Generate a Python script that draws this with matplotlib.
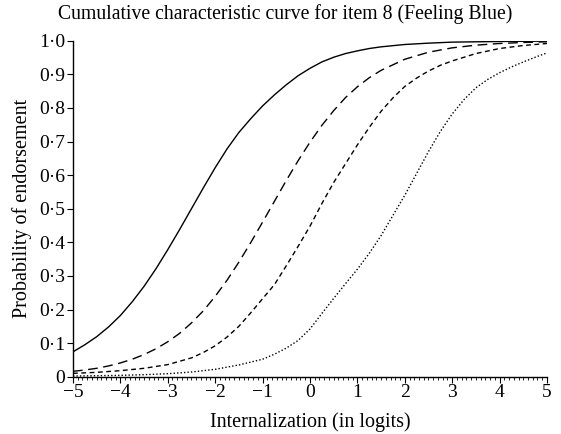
import numpy as np
import matplotlib
matplotlib.use("Agg")
import matplotlib.pyplot as plt
from matplotlib.ticker import MultipleLocator

plt.rcParams['font.family'] = ['Liberation Serif', 'DejaVu Serif']

# values (logits, probability of endorsement)
x_cat1 = [-5.0, -4.75, -4.5, -4.25, -4.0, -3.75, -3.5, -3.25, -3.0, -2.75, -2.5, -2.25,
          -2.0, -1.75, -1.5, -1.25, -1.0, -0.75, -0.5, -0.25, 0.0, 0.25, 0.5, 0.75,
          1.0, 1.25, 1.5, 2.0, 2.5, 3.0, 4.0, 5.0]
p_cat1 = [0.074, 0.095, 0.119, 0.148, 0.182, 0.223, 0.269, 0.321, 0.378, 0.438, 0.500, 0.562,
          0.622, 0.678, 0.727, 0.768, 0.806, 0.839, 0.869, 0.896, 0.918, 0.937, 0.951, 0.962,
          0.970, 0.977, 0.982, 0.989, 0.993, 0.996, 0.998, 0.999]

x_cat2 = [-5.0, -4.75, -4.5, -4.25, -4.0, -3.75, -3.5, -3.25, -3.0, -2.75, -2.5, -2.25,
          -2.0, -1.75, -1.5, -1.25, -1.0, -0.75, -0.5, -0.25, 0.0, 0.25, 0.5, 0.75,
          1.0, 1.25, 1.5, 2.0, 2.5, 3.0, 3.5, 4.0, 4.5, 5.0]
p_cat2 = [0.016, 0.020, 0.025, 0.032, 0.041, 0.052, 0.066, 0.083, 0.104, 0.129, 0.160, 0.196,
          0.239, 0.287, 0.341, 0.399, 0.460, 0.522, 0.584, 0.643, 0.698, 0.748, 0.792, 0.831,
          0.863, 0.890, 0.912, 0.945, 0.966, 0.979, 0.987, 0.992, 0.995, 0.997]

x_cat3 = [-5.0, -4.5, -4.0, -3.5, -3.0, -2.5, -2.25, -2.0, -1.75, -1.5, -1.25, -1.0,
          -0.75, -0.5, -0.25, 0.0, 0.25, 0.5, 0.75, 1.0, 1.25, 1.5, 1.75, 2.0,
          2.25, 2.5, 2.75, 3.0, 3.5, 4.0, 4.5, 5.0]
p_cat3 = [0.010, 0.013, 0.018, 0.025, 0.036, 0.056, 0.072, 0.092, 0.118, 0.150, 0.190, 0.232,
          0.274, 0.330, 0.388, 0.448, 0.515, 0.578, 0.634, 0.690, 0.742, 0.790, 0.830, 0.864,
          0.889, 0.910, 0.927, 0.940, 0.962, 0.977, 0.986, 0.992]

x_cat4 = [-5.0, -4.5, -4.0, -3.5, -3.0, -2.5, -2.0, -1.5, -1.0, -0.75, -0.5, -0.25, 0.0,
          0.25, 0.5, 0.75, 1.0, 1.25, 1.5, 1.75, 2.0, 2.25, 2.5, 2.75, 3.0,
          3.25, 3.5, 3.75, 4.0, 4.25, 4.5, 4.75, 5.0]
p_cat4 = [0.002, 0.003, 0.004, 0.006, 0.009, 0.014, 0.022, 0.035, 0.052, 0.067, 0.085, 0.108, 0.142,
          0.188, 0.233, 0.277, 0.320, 0.367, 0.420, 0.480, 0.540, 0.605, 0.670, 0.730, 0.782,
          0.825, 0.860, 0.885, 0.905, 0.922, 0.937, 0.951, 0.964]

fig = plt.figure(figsize=(5.61, 4.34), dpi=100)
ax = fig.add_axes([0.130, 0.132, 0.845, 0.774])

ax.plot(x_cat1, p_cat1, color='black', lw=1.0, linestyle='-')
ax.plot(x_cat2, p_cat2, color='black', lw=1.0, linestyle=(0, (7, 4)))
ax.plot(x_cat3, p_cat3, color='black', lw=1.0, linestyle=(0, (3.5, 2.5)))
ax.plot(x_cat4, p_cat4, color='black', lw=1.0, linestyle=(0, (1, 1.5)))

ax.set_xlim(-5, 5)
ax.set_ylim(0, 1.0)

# y ticks with middle-dot decimals
yt = np.round(np.arange(0, 1.01, 0.1), 1)
ax.set_yticks(yt)
ax.set_yticklabels(['0'] + [f"{v:.1f}".replace('.', '\u00b7') for v in yt[1:]])
ax.set_xticks(range(-5, 6))
ax.set_xticklabels([str(v).replace('-', '\u2212') for v in range(-5, 6)])
ax.xaxis.set_minor_locator(MultipleLocator(0.1))

ax.tick_params(axis='both', direction='out', length=4, width=0.8, labelsize=14, pad=1.5)
ax.tick_params(axis='x', which='minor', length=2.5, width=0.6)

for s in ['top', 'right']:
    ax.spines[s].set_visible(False)
for s in ['left', 'bottom']:
    ax.spines[s].set_linewidth(1.0)

ax.set_xlabel('Internalization (in logits)', fontsize=14.5, labelpad=8)
ax.set_ylabel('Probability of endorsement', fontsize=14.5, labelpad=5)
fig.text(0.508, 0.968, 'Cumulative characteristic curve for item 8 (Feeling Blue)',
         ha='center', va='center', fontsize=14.2)

plt.savefig("out.png", dpi=100)
